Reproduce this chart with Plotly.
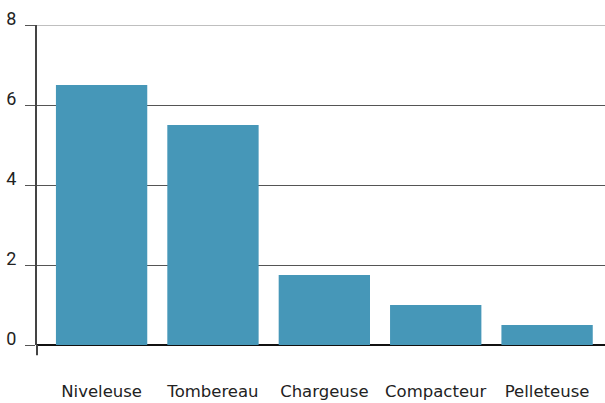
import plotly.graph_objects as go

categories = ["Niveleuse", "Tombereau", "Chargeuse", "Compacteur", "Pelleteuse"]
values = [6.5, 5.5, 1.75, 1.0, 0.5]
y_ticks = [0, 2, 4, 6, 8]

fig = go.Figure(go.Bar(x=categories, y=values, marker_color="#4697b8",
                       marker_line_width=0, width=0.82))

fig.update_layout(
    width=605, height=403,
    margin=dict(l=37, r=0, t=25, b=58),
    paper_bgcolor="white", plot_bgcolor="white",
    font=dict(family="Roboto, DejaVu Sans, sans-serif", color="#222"),
    showlegend=False,
)
fig.update_xaxes(
    automargin=False, range=[-0.58, 4.52],
    showline=False, showgrid=False, zeroline=False,
    ticks="outside", ticklen=31, tickcolor="rgba(0,0,0,0)",
    tickfont=dict(size=16.5, color="#222", family="DejaVu Sans, sans-serif"),
)
fig.update_yaxes(
    automargin=False,
    range=[0, 8], tickvals=y_ticks, ticktext=[str(v) for v in y_ticks],
    showgrid=True, gridcolor="#555", gridwidth=1.3,
    zeroline=True, zerolinecolor="#111", zerolinewidth=1.5,
    showline=True, linecolor="#444", linewidth=2,
    ticks="outside", ticklen=10, tickcolor="#555", tickwidth=1.3,
    tickfont=dict(size=18, color="#222"),
    ticklabelshift=-6, ticklabelstandoff=5,
)
# lighter top gridline
fig.add_shape(type="line", xref="paper", yref="y", x0=0, x1=1, y0=8, y1=8,
              line=dict(color="#aaa", width=1.3))
# axis line extending below zero
fig.add_shape(type="line", xref="paper", yref="paper", x0=0, x1=0, y0=-0.032, y1=0,
              line=dict(color="#444", width=2))

fig.write_html(
    "out.html",
    config={"responsive": False, "displayModeBar": False},
    post_script="document.body.style.margin='0';document.body.style.padding='0';document.body.style.overflow='hidden';",
)
